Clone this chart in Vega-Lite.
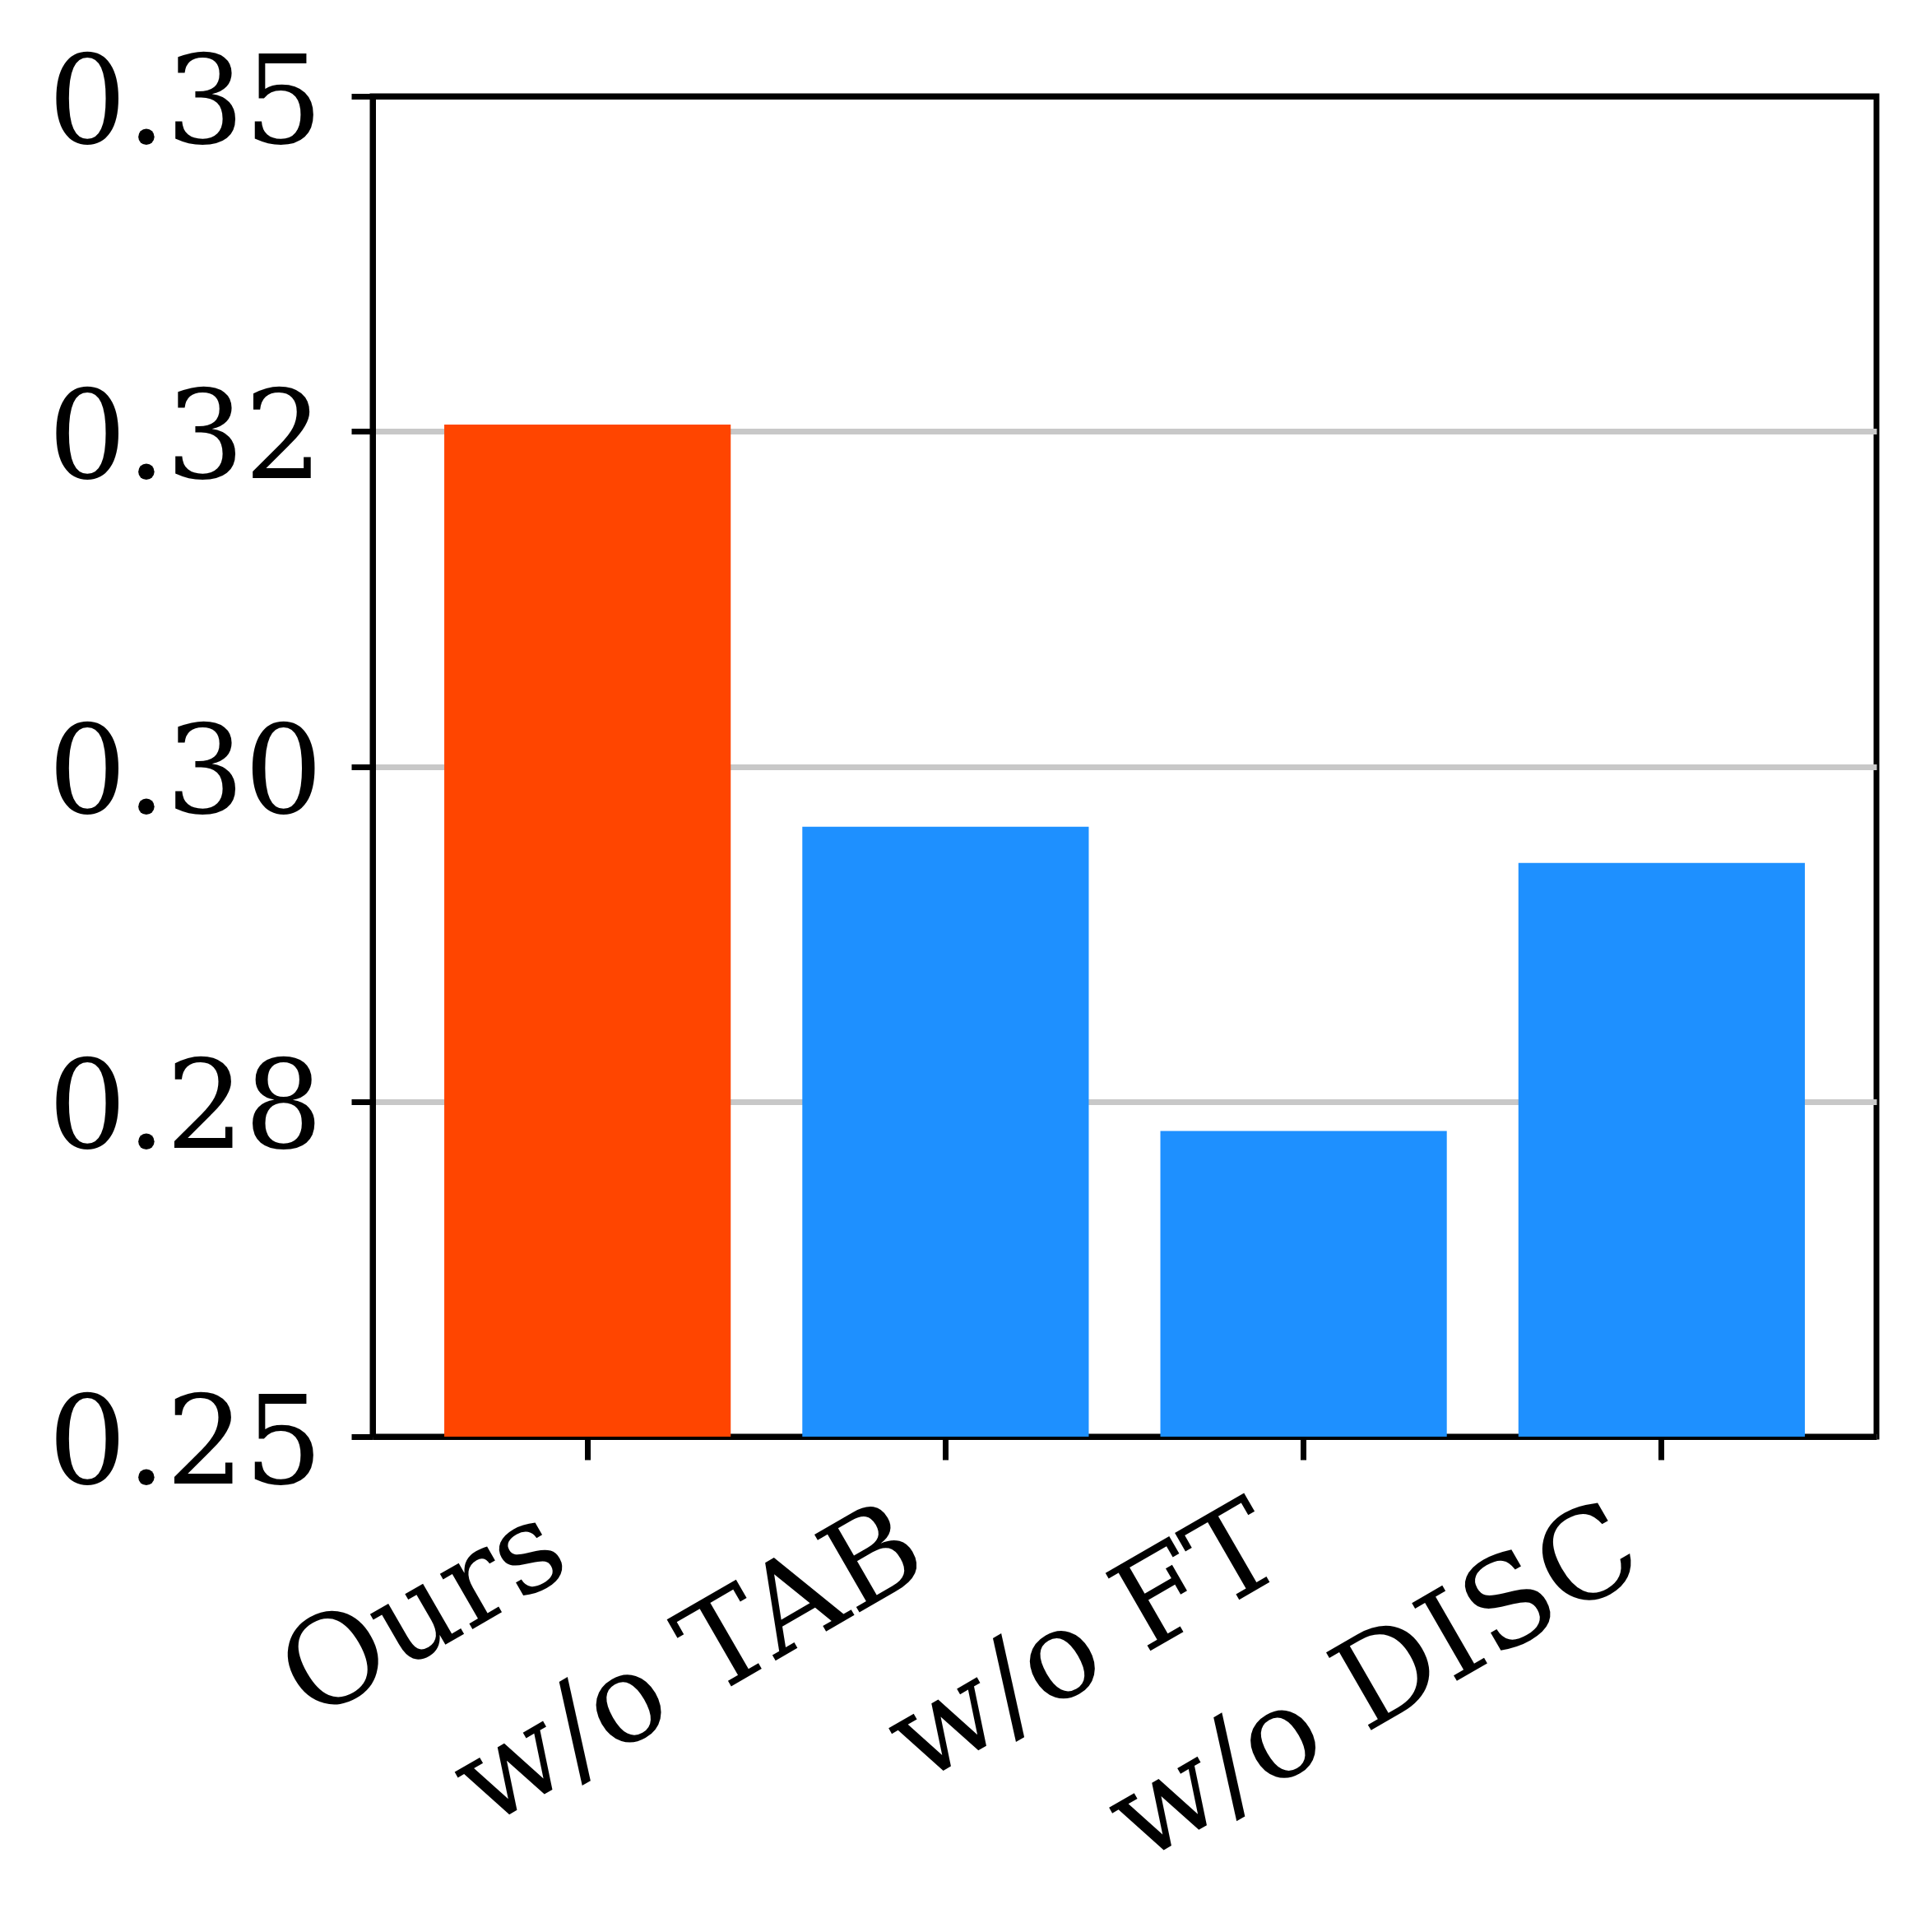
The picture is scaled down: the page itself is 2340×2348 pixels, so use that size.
{
  "$schema": "https://vega.github.io/schema/vega-lite/v6.json",
  "autosize": {"type": "none"},
  "padding": {"left": 453, "top": 117, "right": 59, "bottom": 602},
  "width": 1828,
  "height": 1629,
  "background": "white",
  "config": {
    "view": {"stroke": "black", "strokeWidth": 7},
    "font": "DejaVu Serif"
  },
  "data": {
    "values": [
      {"method": "Ours", "score": 0.3255, "group": "ours"},
      {"method": "w/o TAB", "score": 0.2955, "group": "ablation"},
      {"method": "w/o FT", "score": 0.2728, "group": "ablation"},
      {"method": "w/o DISC", "score": 0.2928, "group": "ablation"}
    ]
  },
  "mark": {"type": "bar", "clip": true},
  "encoding": {
    "x": {
      "field": "method",
      "type": "nominal",
      "sort": null,
      "scale": {"paddingInner": 0.2, "paddingOuter": 0.2},
      "axis": {
        "title": null,
        "domain": true,
        "domainColor": "black",
        "domainWidth": 7,
        "ticks": true,
        "tickColor": "black",
        "tickWidth": 7,
        "tickSize": 28,
        "labelAngle": -30,
        "labelAlign": "right",
        "labelBaseline": "top",
        "labelOffset": -76,
        "labelPadding": 31,
        "labelFont": "DejaVu Serif",
        "labelFontSize": 150,
        "labelColor": "black",
        "labelLimit": 3000,
        "labelOverlap": false,
        "labelBound": false,
        "grid": false
      }
    },
    "y": {
      "field": "score",
      "type": "quantitative",
      "scale": {"domain": [0.25, 0.35], "nice": false, "zero": false},
      "axis": {
        "title": null,
        "values": [0.25, 0.275, 0.3, 0.32499999999999996, 0.35],
        "format": ".2f",
        "domain": true,
        "domainColor": "black",
        "domainWidth": 7,
        "ticks": true,
        "tickColor": "black",
        "tickWidth": 7,
        "tickSize": 26,
        "labelFont": "DejaVu Serif",
        "labelFontSize": 150,
        "labelColor": "black",
        "labelLimit": 3000,
        "labelPadding": 35,
        "labelOffset": 11,
        "labelOverlap": false,
        "labelBound": false,
        "labelFlush": false,
        "grid": true,
        "gridColor": {"condition": {"test": "datum.value > 0.345", "value": "black"}, "value": "#c8c8c8"},
        "gridWidth": 7
      }
    },
    "color": {
      "field": "group",
      "type": "nominal",
      "scale": {"domain": ["ours", "ablation"], "range": ["#FF4500", "#1E90FF"]},
      "legend": null
    }
  }
}
